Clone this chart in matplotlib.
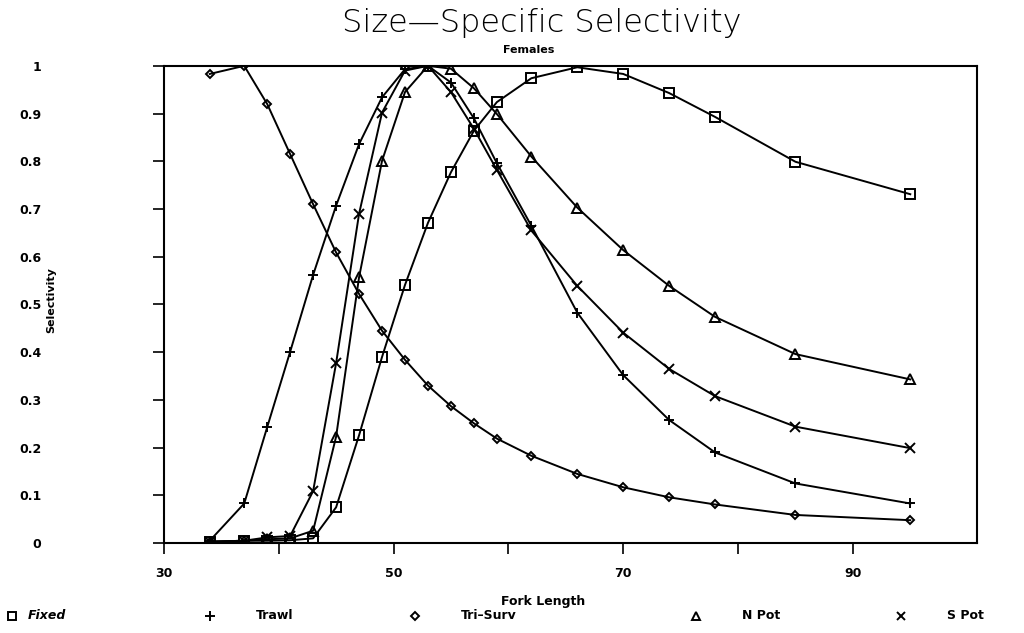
import matplotlib
matplotlib.use("Agg")
import matplotlib.pyplot as plt
from matplotlib.lines import Line2D

# Fork length bins (cm)
fork_length = [34, 37, 39, 41, 43, 45, 47, 49, 51, 53, 55, 57, 59, 62, 66, 70, 74, 78, 85, 95]

# Selectivity by gear
fixed = [0.003, 0.005, 0.005, 0.006, 0.010, 0.075, 0.226, 0.390, 0.541, 0.671,
         0.777, 0.864, 0.924, 0.974, 0.997, 0.983, 0.943, 0.893, 0.799, 0.731]
trawl = [0.005, 0.083, 0.243, 0.401, 0.562, 0.707, 0.836, 0.934, 0.993, 1.000,
         0.965, 0.890, 0.796, 0.665, 0.483, 0.352, 0.258, 0.190, 0.125, 0.083]
tri_surv = [0.983, 1.000, 0.920, 0.815, 0.710, 0.609, 0.522, 0.445, 0.384, 0.330,
            0.287, 0.251, 0.219, 0.183, 0.145, 0.117, 0.096, 0.081, 0.059, 0.048]
n_pot = [0.003, 0.005, 0.008, 0.010, 0.026, 0.223, 0.557, 0.801, 0.945, 1.000,
         0.994, 0.953, 0.899, 0.810, 0.703, 0.614, 0.539, 0.474, 0.396, 0.343]
s_pot = [0.003, 0.005, 0.012, 0.015, 0.109, 0.377, 0.690, 0.902, 0.990, 1.000,
         0.945, 0.868, 0.782, 0.655, 0.539, 0.441, 0.365, 0.308, 0.244, 0.199]

# (label, values, marker, marker size)
series = [
    ("Fixed", fixed, "s", 6.5),
    ("Trawl", trawl, "+", 7),
    ("Tri\u2013Surv", tri_surv, "D", 4.5),
    ("N Pot", n_pot, "^", 6.5),
    ("S Pot", s_pot, "x", 6.5),
]

x_ticks = [30, 40, 50, 60, 70, 80, 90]
x_tick_labels = ["30", "", "50", "", "70", "", "90"]
y_ticks = [0, 0.1, 0.2, 0.3, 0.4, 0.5, 0.6, 0.7, 0.8, 0.9, 1.0]
y_tick_labels = ["0", "0.1", "0.2", "0.3", "0.4", "0.5", "0.6", "0.7", "0.8", "0.9", "1"]

plt.rcParams["font.family"] = ["DejaVu Sans"]

fig = plt.figure(figsize=(10.24, 6.33), dpi=100)
ax = fig.add_axes([0.160, 0.142, 0.794, 0.754])

for nome, valores, marcador, tamanho in series:
    ax.plot(fork_length, valores, color="black", linewidth=1.4,
            marker=marcador, markersize=tamanho, markerfacecolor="none",
            markeredgecolor="black", markeredgewidth=1.4)

ax.set_xlim(30, 100.8)
ax.set_ylim(0, 1)
ax.set_xticks(x_ticks)
ax.set_xticklabels(x_tick_labels, fontsize=9, fontweight="bold")
ax.set_yticks(y_ticks)
ax.set_yticklabels(y_tick_labels, fontsize=9, fontweight="bold")
ax.tick_params(axis="y", direction="out", length=8, width=1.2, pad=80)
ax.tick_params(axis="x", direction="out", length=8, width=1.2, pad=9)
for spine in ax.spines.values():
    spine.set_linewidth(1.5)

ax.set_ylabel("Selectivity", fontsize=8, fontweight="bold")
ax.yaxis.set_label_coords(-0.132, 0.51)

# Titles
fig.text(0.529, 0.963, "Size\u2014Specific Selectivity", ha="center", va="center",
         fontsize=23, fontweight="light")
fig.text(0.516, 0.921, "Females", ha="center", va="center",
         fontsize=8, fontweight="bold")
fig.text(0.530, 0.050, "Fork Length", ha="center", va="center",
         fontsize=9, fontweight="bold")

# Key along the bottom
marcador_x = [0.012, 0.205, 0.405, 0.680, 0.880]
texto_x = [0.027, 0.250, 0.450, 0.725, 0.925]
for (nome, valores, marcador, tamanho), mx, tx in zip(series, marcador_x, texto_x):
    fig.add_artist(Line2D([mx], [0.027], transform=fig.transFigure,
                          marker=marcador, markersize=tamanho - 0.5, color="black",
                          markerfacecolor="none", markeredgewidth=1.4,
                          linestyle="none"))
    estilo = "italic" if nome == "Fixed" else "normal"
    fig.text(tx, 0.027, nome, ha="left", va="center", fontsize=9,
             fontweight="bold", style=estilo)

fig.savefig("out.png", dpi=100)
plt.close(fig)
